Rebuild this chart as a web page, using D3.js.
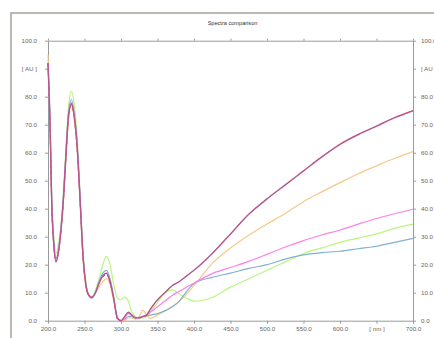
<!DOCTYPE html>
<html>
<head>
<meta charset="utf-8">
<script src="https://cdn.jsdelivr.net/npm/d3@7"></script>
<style>
    body { margin: 0; background: #fff; }
    svg { display: block; }
</style>
</head>
<body>
<div id="vis"></div>
<script>
// wavelengths [nm]
const wavelengths = [200, 203, 205, 208, 211, 214, 218, 221, 225, 228, 232, 236, 240, 244, 248, 252, 256, 260, 265, 270, 275, 280, 285, 290, 295, 300, 305, 310, 315, 320, 325, 330, 335, 340, 350, 360, 370, 380, 390, 400, 425, 450, 475, 500, 525, 550, 575, 600, 625, 650, 675, 700];

// absorbance [AU] per sample
const orangeValues = [95, 68, 44, 28, 22, 25, 33, 42, 60, 71, 77, 72, 61, 42, 22, 12, 9, 8.5, 10, 12, 14, 15, 13, 7, 1, 0, 0, 1, 1, 0.5, 1.5, 3.8, 2, 0.8, 2, 3.5, 5, 7, 9.5, 12.5, 20.5, 26, 30.5, 34.5, 38.3, 42.5, 46, 49.3, 52.5, 55.3, 58, 60.4];
const greenValues = [92, 70, 46, 30, 24, 27, 35, 45, 64, 76, 82, 77, 65, 45, 25, 14, 9.5, 8.5, 11, 15, 20, 23, 20, 13, 8, 7.5, 8.4, 7, 3, 1.5, 1, 1, 1.5, 3, 6.5, 10, 11, 9.5, 8, 7, 8.3, 12, 15, 18, 21, 24, 26, 28, 29.5, 31, 33, 34.5];
const blueValues = [92, 69, 44, 28, 22, 25, 34, 44, 62, 74, 79, 74, 63, 44, 23.5, 13, 9, 8, 10, 14, 17, 18, 15, 8.5, 1, 0, 0.5, 1.5, 1.5, 1, 1.2, 1.5, 1.8, 2, 2.5, 3.5, 5, 7, 10.5, 13.3, 15.5, 17, 18.7, 20, 22, 23.5, 24.3, 24.8, 25.7, 26.6, 28, 29.4];
const pinkValues = [92, 68, 43, 27, 21.5, 24, 33, 43, 61, 73, 78, 73, 62, 43, 23, 12.5, 9, 8.3, 10, 13.5, 16, 17, 14, 8, 1, 0, 1, 2.5, 1.8, 1, 1.2, 1.5, 2, 3, 5, 7, 9, 10.5, 12, 13.5, 16.8, 19, 21.2, 23.7, 26.3, 28.6, 30.6, 32.4, 34.5, 36.5, 38.2, 39.8];
const purpleValues = [92, 68, 43, 27, 21, 24, 33, 43, 61, 73, 77.5, 73, 62, 43, 23, 12.5, 9, 8.3, 10, 13.5, 16, 17, 14, 8, 1, 0, 1.5, 3, 2, 1, 1, 1.5, 2, 4, 7.5, 10, 12.5, 14, 16, 18, 24, 31, 38, 43.5, 48.5, 53.5, 58.5, 63, 66.5, 69.5, 72.5, 75];
const redValues = [92, 67, 42, 27, 21, 24, 32, 42, 60, 72, 77, 72, 61, 42, 22.5, 12.5, 9, 8.3, 10, 13.5, 15.5, 16.5, 13.5, 7.5, 0.5, 0, 1.5, 3, 2, 1, 1, 1.5, 2, 4, 7.5, 10, 12.5, 14, 16, 18, 24, 31, 38, 43.5, 48.5, 53.5, 58.5, 63, 66.5, 69.5, 72.5, 75];

// axis labels
const xTicks = [200, 250, 300, 350, 400, 450, 500, 550, 600, 650, 700];
const xTickLabels = ["200.0", "250.0", "300.0", "350.0", "400.0", "450.0", "500.0", "550.0", "600.0", "[ nm ]", "700.0"];
const yTicks = [0, 10, 20, 30, 40, 50, 60, 70, 80, 90, 100];
const yTickLabels = ["0.0", "10.0", "20.0", "30.0", "40.0", "50.0", "60.0", "70.0", "80.0", "[ AU ]", "100.0"];

const series = [
    { name: "orange", values: orangeValues, color: "#f6c98a", width: 1.2 },
    { name: "green", values: greenValues, color: "#b9f57f", width: 1.2 },
    { name: "blue", values: blueValues, color: "#80b2d2", width: 1.2 },
    { name: "pink", values: pinkValues, color: "#ff7fe8", width: 1.2 },
    { name: "purple", values: purpleValues, color: "#a65a9c", width: 1.4 },
    { name: "red", values: redValues, color: "#e0506a", width: 1, dash: "3,3" }
];

const width = 434, height = 338;
const margin = { top: 40.7, right: 21, bottom: 17.3, left: 48 };

const svg = d3.select("#vis").append("svg")
    .attr("width", width)
    .attr("height", height)
    .style("font-family", "Arial, 'Liberation Sans', sans-serif");

// outer frame (runs off the right and bottom edges)
svg.append("rect")
    .attr("x", 11)
    .attr("y", 13)
    .attr("width", 500)
    .attr("height", 400)
    .attr("fill", "none")
    .attr("stroke", "#a3a39b")
    .attr("stroke-width", 1.5);

svg.append("text")
    .attr("x", 232.5)
    .attr("y", 25)
    .attr("text-anchor", "middle")
    .attr("font-size", 5.6)
    .attr("fill", "#333")
    .text("Spectra comparison");

const x = d3.scaleLinear().domain([200, 700]).range([margin.left, width - margin.right]);
const y = d3.scaleLinear().domain([0, 100]).range([height - margin.bottom, margin.top]);

const xLabel = d => xTickLabels[xTicks.indexOf(d)];
const yLabel = d => yTickLabels[yTicks.indexOf(d)];

function styleAxis(g) {
    g.select(".domain").attr("stroke", "#9a9a9a");
    g.selectAll(".tick line").attr("stroke", "#9a9a9a");
    g.selectAll(".tick text").attr("fill", "#666").attr("font-size", 6.2);
}

svg.append("g")
    .attr("transform", `translate(0,${y(0)})`)
    .call(d3.axisBottom(x).tickValues(xTicks).tickFormat(xLabel).tickSizeInner(3).tickSizeOuter(0).tickPadding(3))
    .call(styleAxis);

svg.append("g")
    .attr("transform", `translate(0,${y(100)})`)
    .call(d3.axisTop(x).tickValues(xTicks).tickFormat("").tickSizeInner(2).tickSizeOuter(0))
    .call(styleAxis);

svg.append("g")
    .attr("transform", `translate(${x(200)},0)`)
    .call(d3.axisLeft(y).tickValues(yTicks).tickFormat(yLabel).tickSizeInner(3).tickSizeOuter(0).tickPadding(8))
    .call(styleAxis);

// right axis labels run off the page edge, as in the source
svg.append("g")
    .attr("transform", `translate(${x(700)},0)`)
    .call(d3.axisRight(y).tickValues(yTicks).tickFormat(yLabel).tickSizeInner(3).tickSizeOuter(0).tickPadding(5))
    .call(styleAxis);

const line = d3.line()
    .x((d, i) => x(wavelengths[i]))
    .y(d => y(d))
    .curve(d3.curveMonotoneX);

svg.append("g")
    .attr("fill", "none")
    .attr("stroke-linejoin", "round")
    .selectAll("path")
    .data(series)
    .join("path")
    .attr("stroke", d => d.color)
    .attr("stroke-width", d => d.width)
    .attr("stroke-dasharray", d => d.dash || null)
    .attr("d", d => line(d.values));
</script>
</body>
</html>
